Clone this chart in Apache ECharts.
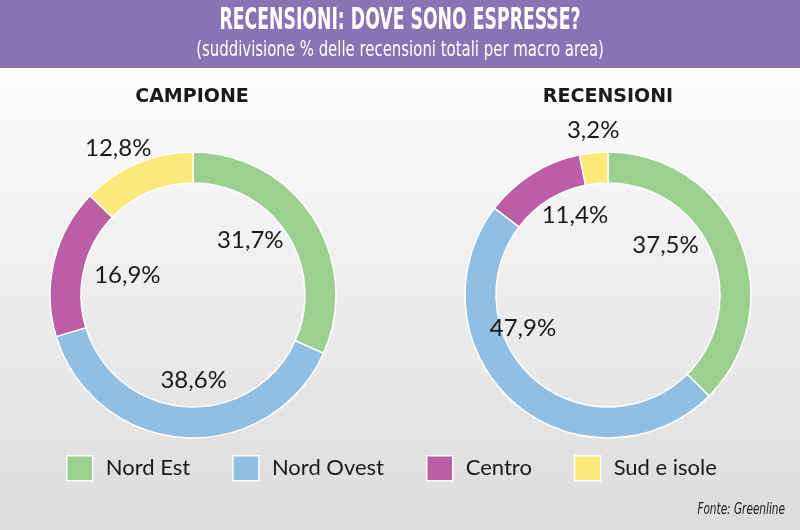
<!DOCTYPE html>
<html>
<head>
<meta charset="utf-8">
<script src="https://cdn.jsdelivr.net/npm/echarts@6/dist/echarts.min.js"></script>
<style>
  html, body { margin: 0; padding: 0; }
  #chart { width: 800px; height: 530px; }
</style>
</head>
<body>
<div id="chart"></div>
<script>
const areas = ['Nord Est', 'Nord Ovest', 'Centro', 'Sud e isole'];
const areaColors = ['#9bd090', '#91bee3', '#bb5ea5', '#fbe97a'];
const campione = [31.7, 38.6, 16.9, 12.8];
const recensioni = [37.5, 47.9, 11.4, 3.2];
const panelTitles = ['CAMPIONE', 'RECENSIONI'];

// le etichette di "Sud e isole" stanno fuori dall'anello
const outsideLabels = ['Sud e isole'];
// piccoli spostamenti delle etichette come nel grafico originale
const labelNudge = [
  [[-14, -9], [6, 0], [17, 0], [-9, 8]],
  [[-21, -17], [-29, -31], [12, -8], [2, 2]]
];

const chart = echarts.init(document.getElementById('chart'));
const bodyFont = 'Lato, "Open Sans", sans-serif';

function fmt(v) {
  return v.toFixed(1).replace('.', ',') + '%';
}

function ringSeries(values, cx, k) {
  const center = [cx, 295];
  const labelStyle = {
    position: 'inside',
    formatter: p => fmt(p.value),
    color: '#1a1a1a',
    fontSize: 24,
    fontFamily: bodyFont
  };
  const labelData = outside => values.map((v, i) => ({
    name: areas[i], value: v,
    label: {
      show: (outsideLabels.indexOf(areas[i]) >= 0) === outside,
      offset: labelNudge[k][i]
    }
  }));
  return [
    {
      type: 'pie',
      radius: [112, 143],
      center: center,
      startAngle: 90,
      silent: true,
      label: {show: false},
      labelLine: {show: false},
      itemStyle: {borderColor: '#ffffff', borderWidth: 1.5},
      data: values.map((v, i) => ({
        name: areas[i],
        value: v,
        itemStyle: {color: areaColors[i]}
      }))
    },
    // etichette interne
    {
      type: 'pie',
      radius: [60, 104],
      center: center,
      startAngle: 90,
      silent: true,
      itemStyle: {color: 'rgba(0,0,0,0)'},
      label: labelStyle,
      labelLine: {show: false},
      data: labelData(false)
    },
    // etichette esterne
    {
      type: 'pie',
      radius: [150, 180],
      center: center,
      startAngle: 90,
      silent: true,
      itemStyle: {color: 'rgba(0,0,0,0)'},
      label: labelStyle,
      labelLine: {show: false},
      data: labelData(true)
    }
  ];
}

function squeezedText(text, x, y, font, scaleX, align) {
  return {
    type: 'text', x: x, y: y, scaleX: scaleX, z: 10,
    style: {
      text: text, font: font, fill: '#ffffff',
      align: align, verticalAlign: 'middle',
      textAlign: align, textVerticalAlign: 'middle'
    }
  };
}

const fonte = squeezedText('Fonte: Greenline', 785, 510,
  'italic 16px "DejaVu Sans Condensed", sans-serif', 0.73, 'right');
fonte.style.fill = '#1a1a1a';

chart.setOption({
  animation: false,
  graphic: [
    {
      type: 'rect', z: -10,
      shape: {x: 0, y: 68, width: 800, height: 462},
      style: {
        fill: new echarts.graphic.LinearGradient(0, 0, 0, 1, [
          {offset: 0, color: '#fdfdfd'},
          {offset: 1, color: '#dcdcdd'}
        ])
      }
    },
    {
      type: 'rect', z: -10,
      shape: {x: 0, y: 0, width: 800, height: 68},
      style: {fill: '#8873b3'}
    },
    squeezedText('RECENSIONI: DOVE SONO ESPRESSE?', 400, 21,
      'bold 30px "DejaVu Sans Condensed", sans-serif', 0.64, 'center'),
    squeezedText('(suddivisione % delle recensioni totali per macro area)', 400, 51,
      '21px "DejaVu Sans Condensed", sans-serif', 0.79, 'center'),
    fonte
  ],
  title: panelTitles.map((t, i) => ({
    text: t,
    left: i === 0 ? 192 : 608, top: 88, textAlign: 'center',
    padding: 0,
    textStyle: {color: '#1a1a1a', fontSize: 19, fontWeight: 'bold', fontFamily: '"DejaVu Sans", sans-serif'}
  })),
  legend: {
    left: 66, top: 455,
    padding: 0,
    itemWidth: 26, itemHeight: 25,
    itemGap: 42,
    selectedMode: false,
    icon: 'rect',
    itemStyle: {borderColor: '#ffffff', borderWidth: 1.5},
    textStyle: {fontSize: 22, color: '#1a1a1a', fontFamily: bodyFont, padding: [0, 0, 0, 8]},
    data: areas.map((a, i) => ({name: a, itemStyle: {color: areaColors[i]}}))
  },
  series: [...ringSeries(campione, 193, 0), ...ringSeries(recensioni, 608, 1)]
});
</script>
</body>
</html>
